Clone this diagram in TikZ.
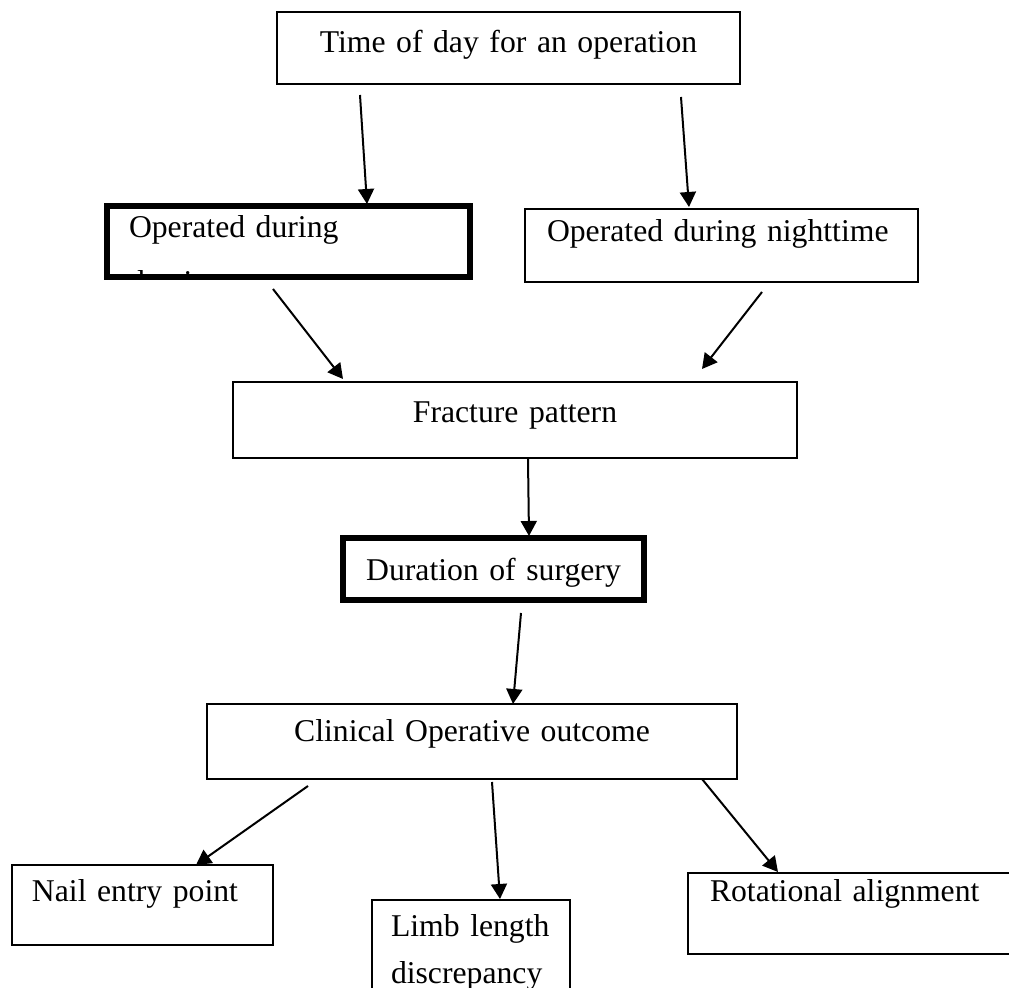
\documentclass[tikz,border=0pt]{standalone}
\usepackage{fontspec}
\setmainfont{Liberation Serif}
\usetikzlibrary{arrows.meta,calc}
\newcommand{\boxfont}{\fontsize{15.85pt}{18.2pt}\selectfont}
\tikzset{
  stage/.style={draw, line width=0.6pt, anchor=north west, outer sep=0pt, inner ysep=0pt, font=\boxfont},
  keystage/.style={stage, line width=3pt},
  link/.style={line width=1pt, -{Triangle[length=7.5pt,width=8pt]}}
}

\begin{document}
\begin{tikzpicture}[x=0.5pt,y=-0.5pt]
  \useasboundingbox (0,0) rectangle (1009,988);
  \clip (0,0) rectangle (1009,988);
  \fill[white] (0,0) rectangle (1009,988);

  % Top: time of day
  \node[stage, inner xsep=0pt, text width=231.5pt, align=center, text height=20.5pt, text depth=15.5pt] (tod) at (277,12) {Time of day for an operation};

  % Day / night split
  \begin{scope}
    \clip (104,203) rectangle (473,280);
    \node[keystage, inner xsep=11pt, text width=159.5pt, align=left, text height=16pt, text depth=19.5pt] (day) at (107,206) {Operated during\\[9pt]daytime};
  \end{scope}
  \node[stage, inner xsep=11pt, text width=174.5pt, align=left, text height=16.5pt, text depth=20pt] (night) at (525,209) {Operated during nighttime};

  % Middle chain
  \node[stage, inner xsep=0pt, text width=282pt, align=center, text height=20.5pt, text depth=17.5pt] (frac) at (233,382) {Fracture pattern};
  \node[keystage, inner xsep=0pt, text width=150.5pt, align=center, text height=21.5pt, text depth=9.5pt] (dur) at (343,538) {Duration of surgery};
  \node[stage, inner xsep=0pt, text width=265pt, align=center, text height=19pt, text depth=18.5pt] (clin) at (207,704) {Clinical Operative outcome};

  % Outcomes
  \node[stage, inner xsep=10pt, text width=110.5pt, align=left, text height=18.5pt, text depth=21.5pt] (nail) at (12,865) {Nail entry point};
  \node[stage, inner xsep=9.5pt, text width=80pt, align=left, text height=18.5pt, text depth=36.5pt] (limb) at (372,900) {Limb length\\[5pt]discrepancy};
  \node[stage, inner xsep=11pt, text width=144pt, align=left, text height=14.5pt, text depth=26pt] (rot) at (688,873) {Rotational alignment};

  % Arrows
  \draw[link] ($(tod.south west)+(83,11)$) -- ($(day.north west)+(260,-2)$);
  \draw[link] ($(tod.south west)+(404,13)$) -- ($(night.north west)+(164,-2)$);
  \draw[link] ($(day.south west)+(166,12)$) -- ($(frac.north west)+(110,-3)$);
  \draw[link] ($(night.south west)+(237,10)$) -- ($(frac.north west)+(469,-13)$);
  \draw[link] ($(frac.south west)+(295,1)$) -- ($(dur.north west)+(186,-2)$);
  \draw[link] ($(dur.south west)+(178,13)$) -- ($(clin.north west)+(306,0)$);
  \draw[link] ($(clin.south west)+(101,7)$) -- ($(nail.north west)+(184,0)$);
  \draw[link] ($(clin.south west)+(285,3)$) -- ($(limb.north west)+(128,-1)$);
  \draw[link] ($(clin.south west)+(495,0)$) -- ($(rot.north west)+(90,-1)$);
\end{tikzpicture}
\end{document}
